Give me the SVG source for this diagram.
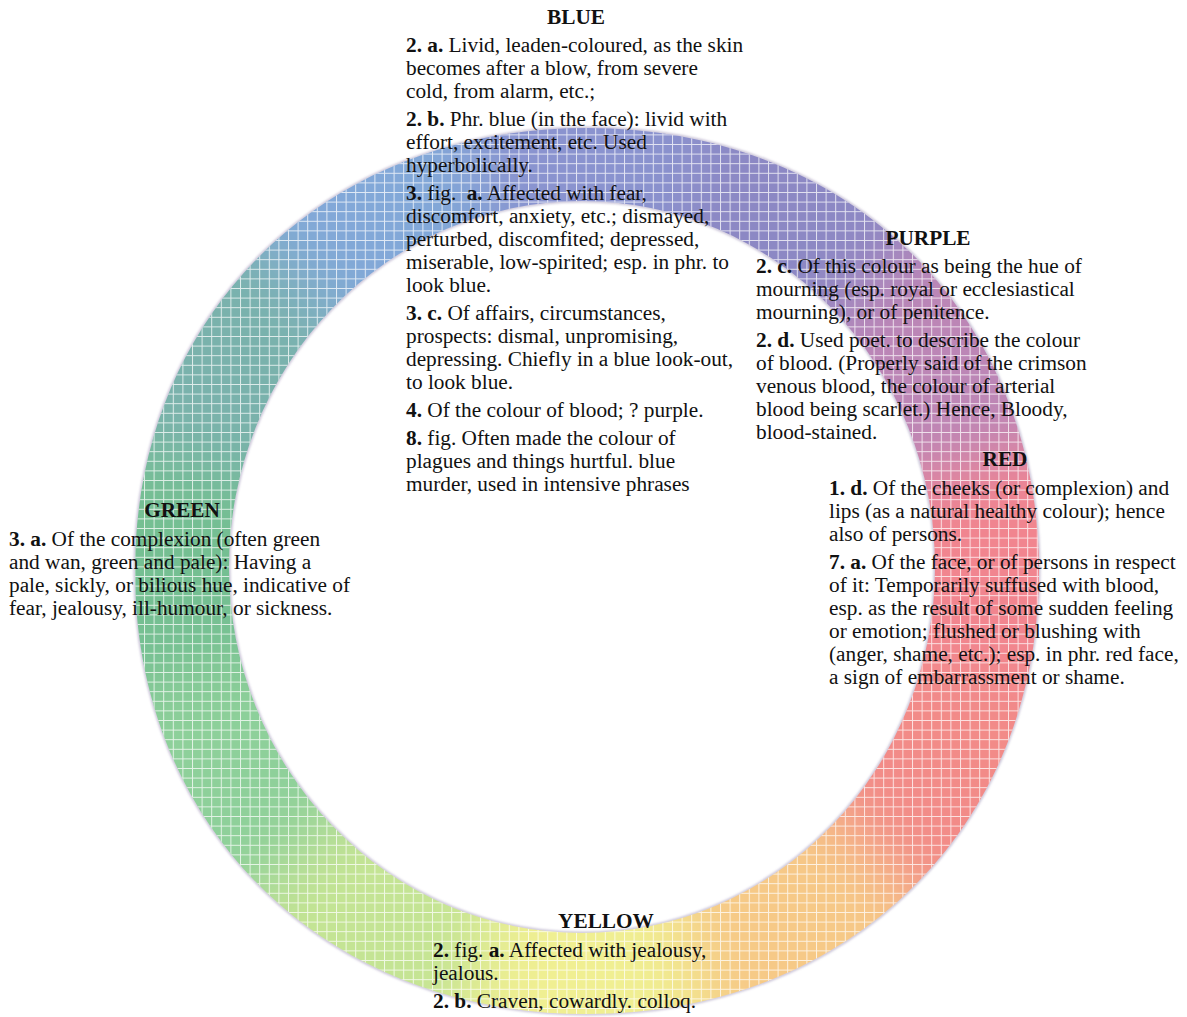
<svg xmlns="http://www.w3.org/2000/svg" width="1187" height="1017" viewBox="0 0 1187 1017">
<style>
text{font-family:"Liberation Serif","Times New Roman",serif;font-size:21.3px;fill:#111}
.h{font-weight:bold;text-anchor:middle}
.b{font-weight:bold}
</style>
<defs>
<pattern id="grid" width="9.6" height="9.6" patternUnits="userSpaceOnUse">
<path d="M0 0.5H9.6M0.5 0V9.6" stroke="#fff" stroke-opacity="0.75" stroke-width="1" fill="none"/>
</pattern>
<filter id="soft" filterUnits="userSpaceOnUse" x="-400" y="-400" width="2000" height="2000">
<feGaussianBlur stdDeviation="32"/>
</filter>
<filter id="edge" x="-5%" y="-5%" width="110%" height="110%">
<feGaussianBlur stdDeviation="1.2"/>
</filter>
<path id="ringPath" fill-rule="evenodd" d="M1039 571C1039 827.9 849.2 1014 587 1014C324.8 1014 135 827.9 135 571C135 314.1 324.8 128 587 128C849.2 128 1039 314.1 1039 571Z M229 567A353 366 0 1 0 935 567A353 366 0 1 0 229 567Z"/>
<clipPath id="ringClip"><use href="#ringPath" clip-rule="evenodd"/></clipPath>
</defs>
<rect width="1187" height="1017" fill="#fff"/>
<g id="ring">
<use href="#ringPath" fill="none" stroke="#7d6f9e" stroke-opacity="0.4" stroke-width="3" filter="url(#edge)"/>
<g clip-path="url(#ringClip)">
<g filter="url(#soft)">
<polygon points="585,570 1357.7,362.9 1357.7,777.1" fill="#f1858f"/>
<polygon points="585,570 1357.7,777.1 1150.7,1135.7" fill="#f28b88"/>
<polygon points="585,570 1150.7,1135.7 792.1,1342.7" fill="#f6c987"/>
<polygon points="585,570 792.1,1342.7 377.9,1342.7" fill="#f0ef92"/>
<polygon points="585,570 377.9,1342.7 19.3,1135.7" fill="#c4e494"/>
<polygon points="585,570 19.3,1135.7 -187.7,777.1" fill="#8ed09a"/>
<polygon points="585,570 -187.7,777.1 -187.7,362.9" fill="#74bf92"/>
<polygon points="585,570 -187.7,362.9 19.3,4.3" fill="#7ab2ac"/>
<polygon points="585,570 19.3,4.3 377.9,-202.7" fill="#82a8d8"/>
<polygon points="585,570 377.9,-202.7 792.1,-202.7" fill="#8a93cf"/>
<polygon points="585,570 792.1,-202.7 1150.7,4.3" fill="#8c88c4"/>
<polygon points="585,570 1150.7,4.3 1357.7,362.9" fill="#bc86b6"/>
</g>
<rect width="1187" height="1017" fill="url(#grid)"/>
</g>
</g>
<g id="blue">
<text class="h" x="576" y="24">BLUE</text>
<text x="406" y="52"><tspan class="b">2. a.</tspan> Livid, leaden-coloured, as the skin</text>
<text x="406" y="75">becomes after a blow, from severe</text>
<text x="406" y="98">cold, from alarm, etc.;</text>
<text x="406" y="126"><tspan class="b">2. b.</tspan> Phr. blue (in the face): livid with</text>
<text x="406" y="149">effort, excitement, etc. Used</text>
<text x="406" y="172">hyperbolically.</text>
<text x="406" y="200"><tspan class="b">3.</tspan> fig. <tspan class="b" dx="5">a.</tspan> Affected with fear,</text>
<text x="406" y="223">discomfort, anxiety, etc.; dismayed,</text>
<text x="406" y="246">perturbed, discomfited; depressed,</text>
<text x="406" y="269">miserable, low-spirited; esp. in phr. to</text>
<text x="406" y="292">look blue.</text>
<text x="406" y="320"><tspan class="b">3. c.</tspan> Of affairs, circumstances,</text>
<text x="406" y="343">prospects: dismal, unpromising,</text>
<text x="406" y="366">depressing. Chiefly in a blue look-out,</text>
<text x="406" y="389">to look blue.</text>
<text x="406" y="417"><tspan class="b">4.</tspan> Of the colour of blood; ? purple.</text>
<text x="406" y="445"><tspan class="b">8.</tspan> fig. Often made the colour of</text>
<text x="406" y="468">plagues and things hurtful. blue</text>
<text x="406" y="491">murder, used in intensive phrases</text>
</g>
<g id="purple">
<text class="h" x="928" y="245">PURPLE</text>
<text x="756" y="273"><tspan class="b">2. c.</tspan> Of this colour as being the hue of</text>
<text x="756" y="296">mourning (esp. royal or ecclesiastical</text>
<text x="756" y="319">mourning), or of penitence.</text>
<text x="756" y="347"><tspan class="b">2. d.</tspan> Used poet. to describe the colour</text>
<text x="756" y="370">of blood. (Properly said of the crimson</text>
<text x="756" y="393">venous blood, the colour of arterial</text>
<text x="756" y="416">blood being scarlet.) Hence, Bloody,</text>
<text x="756" y="439">blood-stained.</text>
</g>
<g id="red">
<text class="h" x="1005" y="466">RED</text>
<text x="829" y="495"><tspan class="b">1. d.</tspan> Of the cheeks (or complexion) and</text>
<text x="829" y="518">lips (as a natural healthy colour); hence</text>
<text x="829" y="541">also of persons.</text>
<text x="829" y="569"><tspan class="b">7. a.</tspan> Of the face, or of persons in respect</text>
<text x="829" y="592">of it: Temporarily suffused with blood,</text>
<text x="829" y="615">esp. as the result of some sudden feeling</text>
<text x="829" y="638">or emotion; flushed or blushing with</text>
<text x="829" y="661">(anger, shame, etc.); esp. in phr. red face,</text>
<text x="829" y="684">a sign of embarrassment or shame.</text>
</g>
<g id="green">
<text class="h" x="182" y="517">GREEN</text>
<text x="9" y="546"><tspan class="b">3. a.</tspan> Of the complexion (often green</text>
<text x="9" y="569">and wan, green and pale): Having a</text>
<text x="9" y="592">pale, sickly, or bilious hue, indicative of</text>
<text x="9" y="615">fear, jealousy, ill-humour, or sickness.</text>
</g>
<g id="yellow">
<text class="h" x="606" y="928">YELLOW</text>
<text x="433" y="957"><tspan class="b">2.</tspan> fig. <tspan class="b">a.</tspan> Affected with jealousy,</text>
<text x="433" y="980">jealous.</text>
<text x="433" y="1008"><tspan class="b">2. b.</tspan> Craven, cowardly. colloq.</text>
</g>
<g id="connectors"></g>
</svg>
